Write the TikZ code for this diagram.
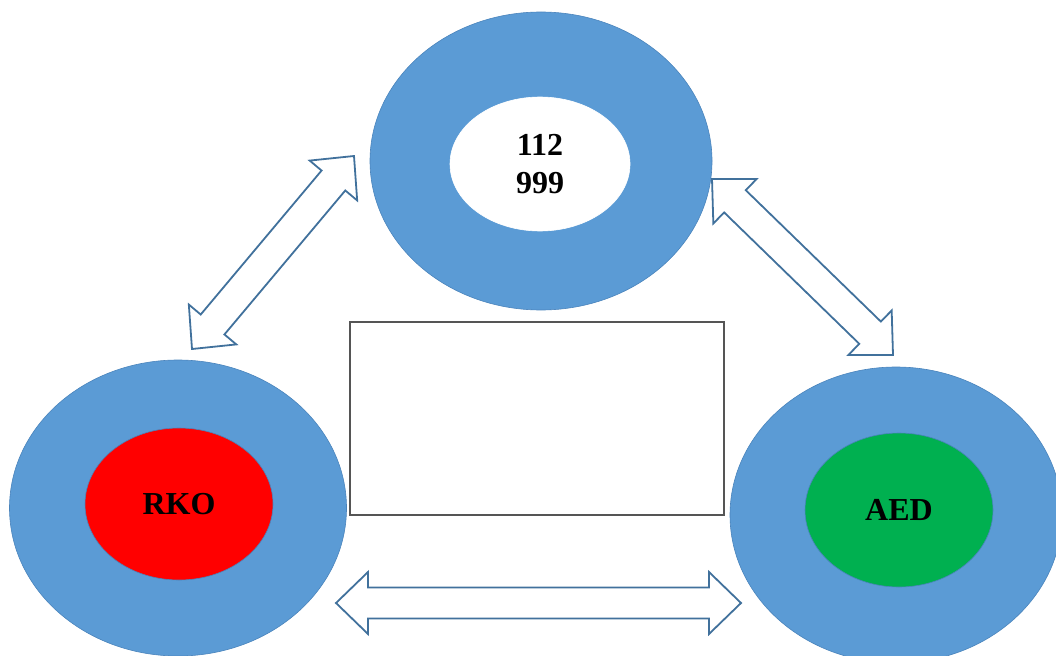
\documentclass[tikz,border=0pt]{standalone}
\usepackage{fontspec}
\setmainfont{Liberation Serif}
\usetikzlibrary{calc,shapes.geometric}
\definecolor{ringblue}{HTML}{5B9BD5}
\definecolor{ringedge}{HTML}{4A84BC}
\definecolor{arrowblue}{HTML}{41719C}
\definecolor{boxgray}{HTML}{555555}
\definecolor{rkored}{HTML}{FF0000}
\definecolor{aedgreen}{HTML}{00B050}
\newcommand\AL{32pt}
\newcommand\AH{31pt}
\newcommand\AS{15.5pt}
\newcommand\dblarr[2]{%
  \draw[arrowshape] (#1)
    -- ($(#1)!\AL!(#2)!\AH!90:(#2)$)
    -- ($(#1)!\AL!(#2)!\AS!90:(#2)$)
    -- ($(#2)!\AL!(#1)!\AS!-90:(#1)$)
    -- ($(#2)!\AL!(#1)!\AH!-90:(#1)$)
    -- (#2)
    -- ($(#2)!\AL!(#1)!\AH!90:(#1)$)
    -- ($(#2)!\AL!(#1)!\AS!90:(#1)$)
    -- ($(#1)!\AL!(#2)!\AS!-90:(#2)$)
    -- ($(#1)!\AL!(#2)!\AH!-90:(#2)$)
    -- cycle;}
\begin{document}
\begin{tikzpicture}[x=1pt,y=-1pt,
  ring/.style={ellipse, fill=ringblue, draw=ringedge, line width=0.6pt, inner sep=0pt},
  core/.style={ellipse, draw=ringedge, line width=0.6pt, inner sep=0pt,
    font=\fontsize{32}{40}\selectfont\bfseries, align=center},
  arrowshape/.style={draw=arrowblue, fill=white, line width=1.8pt, line join=miter},
  emptybox/.style={rectangle, draw=boxgray, line width=1.4pt, fill=white, inner sep=0pt}]
\useasboundingbox (0,0) rectangle (1056,655);
% rings
\node[ring, minimum width=342pt, minimum height=298pt] (topring) at (541,161) {};
\node[ring, minimum width=337pt, minimum height=296pt] (leftring) at (178,508) {};
\node[ring, minimum width=332pt, minimum height=296pt] (rightring) at (896,515) {};
% cores
\node[core, fill=white, draw=white, minimum width=180pt, minimum height=134pt] (num) at (540,164) {112\\[-2pt]999};
\node[core, fill=rkored, minimum width=188pt, minimum height=152pt] (rko) at (179,504) {RKO};
\node[core, fill=aedgreen, minimum width=188pt, minimum height=154pt] (aed) at (899,510) {AED};
% empty box
\node[emptybox, minimum width=374pt, minimum height=193pt] (box) at (537,418.5) {};
% arrow ends
\coordinate (la1) at (192,349);
\coordinate (la2) at (354,156);
\coordinate (ra1) at (712,179);
\coordinate (ra2) at (893,355);
\coordinate (ba1) at (336,603);
\coordinate (ba2) at (741,603);
\dblarr{la1}{la2}
\dblarr{ra1}{ra2}
\dblarr{ba1}{ba2}
\end{tikzpicture}
\end{document}
